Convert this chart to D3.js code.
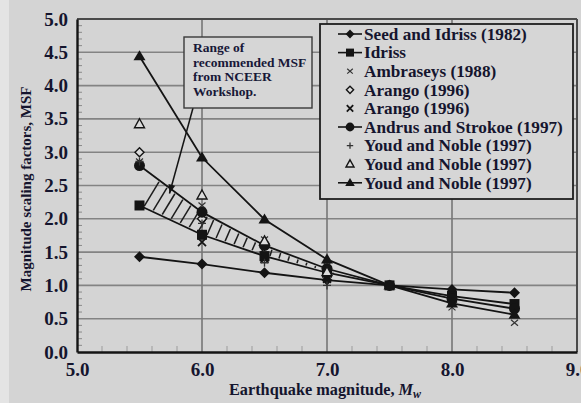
<!DOCTYPE html>
<html>
<head>
<meta charset="utf-8">
<script src="https://cdn.jsdelivr.net/npm/d3@7"></script>
<style>
  html, body { margin: 0; padding: 0; background: #d4d4d4; }
  svg { display: block; }
</style>
</head>
<body>
<svg id="chart" width="581" height="403"></svg>
<script>
// Magnitude scaling factors (MSF) proposed by various investigators
const magnitudes = [5.5, 6.0, 6.5, 7.0, 7.5, 8.0, 8.5];
const seedIdriss1982 = [1.43, 1.32, 1.19, 1.08, 1.00, 0.94, 0.89];
const idriss = [2.20, 1.76, 1.44, 1.19, 1.00, 0.84, 0.72];
const ambraseys1988 = [2.86, 2.20, 1.69, 1.30, 1.00, 0.67, 0.44];
const arango1996Distance = [3.00, 2.00, 1.60, 1.25, 1.00, 0.75, null];
const arango1996Energy = [2.20, 1.65, 1.40, 1.10, 1.00, 0.85, null];
const andrusStokoe1997 = [2.80, 2.10, 1.60, 1.25, 1.00, 0.80, 0.65];
const youdNoble20 = [2.86, 1.93, 1.34, 1.00, null, null, null];
const youdNoble32 = [3.42, 2.35, 1.66, 1.20, null, null, null];
const youdNoble50 = [4.44, 2.92, 1.99, 1.39, 1.00, 0.73, 0.56];

const xTickValues = [5.0, 6.0, 7.0, 8.0, 9.0];
const yTickValues = [0.0, 0.5, 1.0, 1.5, 2.0, 2.5, 3.0, 3.5, 4.0, 4.5, 5.0];

// Recommended range (NCEER workshop): between Idriss and Andrus & Stokoe, M 5.5 - 7.5
const bandMagnitudes = [5.5, 6.0, 6.5, 7.0, 7.5];
const noteLines = ["Range of", "recommended MSF", "from NCEER", "Workshop."];
const notePointer = [5.74, 2.38];

const series = [
  { label: "Seed and Idriss (1982)",    values: seedIdriss1982,    line: true,  marker: "diamondFill" },
  { label: "Idriss",                    values: idriss,            line: true,  marker: "square" },
  { label: "Ambraseys (1988)",          values: ambraseys1988,     line: false, marker: "xThin" },
  { label: "Arango (1996)",             values: arango1996Distance,line: false, marker: "diamondOpen" },
  { label: "Arango (1996)",             values: arango1996Energy,  line: false, marker: "xBold" },
  { label: "Andrus and Strokoe (1997)", values: andrusStokoe1997,  line: true,  marker: "circle" },
  { label: "Youd and Noble (1997)",     values: youdNoble20,       line: false, marker: "plus" },
  { label: "Youd and Noble (1997)",     values: youdNoble32,       line: false, marker: "triOpen" },
  { label: "Youd and Noble (1997)",     values: youdNoble50,       line: true,  marker: "triFill" }
];

const W = 581, H = 403;
const plot = { left: 77, right: 577, top: 19, bottom: 352 };
const serif = "'Liberation Serif', 'Times New Roman', serif";
const ink = "#141414";
const textInk = "#15152e";

const svg = d3.select("#chart");
svg.append("rect").attr("width", W).attr("height", H).attr("fill", "#d4d4d4");
svg.append("rect").attr("width", 9).attr("height", H).attr("fill", "#e4e4e4");

const x = d3.scaleLinear().domain([5, 9]).range([plot.left, plot.right]);
const y = d3.scaleLinear().domain([0, 5]).range([plot.bottom, plot.top]);

// grid
const grid = svg.append("g");
grid.selectAll("line.h").data(d3.range(0.5, 5.0, 0.5)).join("line")
  .attr("x1", plot.left).attr("x2", plot.right)
  .attr("y1", d => y(d)).attr("y2", d => y(d))
  .attr("stroke", "#838383").attr("stroke-width", 1.6);
grid.selectAll("line.v").data([6, 7, 8]).join("line")
  .attr("y1", plot.top).attr("y2", plot.bottom)
  .attr("x1", d => x(d)).attr("x2", d => x(d))
  .attr("stroke", "#767676").attr("stroke-width", 1.6);

// minor ticks
const yMinor = d3.range(1, 50).map(i => i / 10).filter(v => Math.abs(v * 2 - Math.round(v * 2)) > 1e-6);
svg.append("g").selectAll("line").data(yMinor).join("line")
  .attr("x1", plot.left).attr("x2", plot.left + 5)
  .attr("y1", d => y(d)).attr("y2", d => y(d))
  .attr("stroke", "#8a8a8a").attr("stroke-width", 1);
const xMinor = d3.range(1, 20).map(i => 5 + i * 0.2).filter(v => Math.abs(v - Math.round(v)) > 1e-6);
svg.append("g").selectAll("line").data(xMinor).join("line")
  .attr("x1", d => x(d)).attr("x2", d => x(d))
  .attr("y1", plot.bottom).attr("y2", plot.bottom - 6)
  .attr("stroke", "#9c9c9c").attr("stroke-width", 1);

// frame
svg.append("line").attr("x1", plot.left).attr("x2", plot.right).attr("y1", plot.top).attr("y2", plot.top)
  .attr("stroke", "#4a4a4a").attr("stroke-width", 2);
svg.append("line").attr("x1", plot.right).attr("x2", plot.right).attr("y1", plot.top).attr("y2", plot.bottom)
  .attr("stroke", "#4a4a4a").attr("stroke-width", 2);

// axes
const xAxis = svg.append("g").attr("transform", `translate(0,${plot.bottom})`)
  .call(d3.axisBottom(x).tickValues(xTickValues).tickFormat(d3.format(".1f")).tickSize(0).tickPadding(11));
const yAxis = svg.append("g").attr("transform", `translate(${plot.left},0)`)
  .call(d3.axisLeft(y).tickValues(yTickValues).tickFormat(d3.format(".1f")).tickSize(0).tickPadding(9));
[xAxis, yAxis].forEach(g => {
  g.select(".domain").attr("stroke", ink).attr("stroke-width", 2.4);
  g.selectAll("text").attr("font-family", serif).attr("font-weight", "bold")
    .attr("font-size", 19).attr("fill", textInk);
});

// hatched band between the two bounding curves
const lowerVals = bandMagnitudes.map(m => idriss[magnitudes.indexOf(m)]);
const upperVals = bandMagnitudes.map(m => andrusStokoe1997[magnitudes.indexOf(m)]);
const lowerY = d3.scaleLinear().domain(bandMagnitudes.map(x)).range(lowerVals.map(y)).clamp(true);
const upperY = d3.scaleLinear().domain(bandMagnitudes.map(x)).range(upperVals.map(y)).clamp(true);
const hatch = [];
const x0 = x(bandMagnitudes[0]), x1 = x(bandMagnitudes[bandMagnitudes.length - 1]);
for (let px = x0 + 4; px < x1 - 6; px += 9) {
  const py = lowerY(px);
  const m = ((lowerY(px + 3) + upperY(px + 3)) - (lowerY(px - 3) + upperY(px - 3))) / 12;
  let t = py - upperY(px);
  for (let k = 0; k < 8; k++) t = py - upperY(px + m * t);
  if (t < 3) continue;
  const inset = 1.5;
  const len = Math.hypot(m * t, t);
  const ux = m * t / len, uy = -t / len;
  hatch.push([px + ux * inset, py + uy * inset, px + m * t - ux * inset, py - t - uy * inset]);
}
svg.append("g").selectAll("line").data(hatch).join("line")
  .attr("x1", d => d[0]).attr("y1", d => d[1]).attr("x2", d => d[2]).attr("y2", d => d[3])
  .attr("stroke", "#1c1c1c").attr("stroke-width", 1.5);

// series lines
const lineGen = d3.line().defined(d => d[1] != null).x(d => x(d[0])).y(d => y(d[1]));
series.filter(s => s.line).forEach(s => {
  svg.append("path").datum(magnitudes.map((m, i) => [m, s.values[i]]))
    .attr("d", lineGen).attr("fill", "none").attr("stroke", ink).attr("stroke-width", 1.8);
});

// marker drawing
function drawMarker(g, type, cx, cy, scale = 1) {
  const s = scale;
  switch (type) {
    case "diamondFill":
      g.append("path").attr("d", `M${cx},${cy - 5.5 * s}L${cx + 5.5 * s},${cy}L${cx},${cy + 5.5 * s}L${cx - 5.5 * s},${cy}Z`).attr("fill", ink);
      break;
    case "diamondOpen":
      g.append("path").attr("d", `M${cx},${cy - 4.5 * s}L${cx + 4.5 * s},${cy}L${cx},${cy + 4.5 * s}L${cx - 4.5 * s},${cy}Z`)
        .attr("fill", "#dcdcdc").attr("stroke", ink).attr("stroke-width", 1.4);
      break;
    case "square":
      g.append("rect").attr("x", cx - 5 * s).attr("y", cy - 5 * s).attr("width", 10 * s).attr("height", 10 * s).attr("fill", ink);
      break;
    case "circle":
      g.append("circle").attr("cx", cx).attr("cy", cy).attr("r", 5.5 * s).attr("fill", ink);
      break;
    case "xThin":
      g.append("path").attr("d", `M${cx - 3.5 * s},${cy - 3 * s}L${cx + 3.5 * s},${cy + 3 * s}M${cx + 3.5 * s},${cy - 3 * s}L${cx - 3.5 * s},${cy + 3 * s}`)
        .attr("stroke", "#333").attr("stroke-width", 1.2);
      break;
    case "xBold":
      g.append("path").attr("d", `M${cx - 4 * s},${cy - 4 * s}L${cx + 4 * s},${cy + 4 * s}M${cx + 4 * s},${cy - 4 * s}L${cx - 4 * s},${cy + 4 * s}`)
        .attr("stroke", ink).attr("stroke-width", 1.8);
      break;
    case "plus":
      g.append("path").attr("d", `M${cx - 4 * s},${cy}L${cx + 4 * s},${cy}M${cx},${cy - 4 * s}L${cx},${cy + 4 * s}`)
        .attr("stroke", "#333").attr("stroke-width", 1.3);
      break;
    case "triOpen":
      g.append("path").attr("d", `M${cx},${cy - 5.5 * s}L${cx + 5 * s},${cy + 3.5 * s}L${cx - 5 * s},${cy + 3.5 * s}Z`)
        .attr("fill", "#dcdcdc").attr("stroke", ink).attr("stroke-width", 1.4);
      break;
    case "triFill":
      g.append("path").attr("d", `M${cx},${cy - 6 * s}L${cx + 6 * s},${cy + 4 * s}L${cx - 6 * s},${cy + 4 * s}Z`).attr("fill", ink);
      break;
  }
}

// markers (drawn in legend order)
const markerLayer = svg.append("g");
series.forEach(s => {
  magnitudes.forEach((m, i) => {
    if (s.values[i] != null) drawMarker(markerLayer, s.marker, x(m), y(s.values[i]));
  });
});

// annotation box with pointer
const noteBox = { x: 184, y: 37, w: 128, h: 71 };
svg.append("line")
  .attr("x1", 193).attr("y1", noteBox.y + noteBox.h)
  .attr("x2", x(notePointer[0])).attr("y2", y(notePointer[1]))
  .attr("stroke", ink).attr("stroke-width", 1.5);
{
  const tx = x(notePointer[0]), ty = y(notePointer[1]);
  const ang = Math.atan2(ty - (noteBox.y + noteBox.h), tx - 193);
  const L = 9, Wd = 3.5;
  const bx = tx - L * Math.cos(ang), by = ty - L * Math.sin(ang);
  const nx = -Math.sin(ang) * Wd, ny = Math.cos(ang) * Wd;
  svg.append("path").attr("d", `M${tx},${ty}L${bx + nx},${by + ny}L${bx - nx},${by - ny}Z`).attr("fill", ink);
}
svg.append("rect").attr("x", noteBox.x).attr("y", noteBox.y).attr("width", noteBox.w).attr("height", noteBox.h)
  .attr("fill", "#d6d6d6").attr("stroke", "#3a3a3a").attr("stroke-width", 1.4);
svg.append("g").selectAll("text").data(noteLines).join("text")
  .attr("x", noteBox.x + 9).attr("y", (d, i) => noteBox.y + 15 + i * 14.5)
  .attr("font-family", serif).attr("font-weight", "bold").attr("font-size", 13.5)
  .attr("fill", "#181838").text(d => d);

// legend
const legendBox = { x: 320, y: 24, w: 253, h: 175 };
svg.append("rect").attr("x", legendBox.x).attr("y", legendBox.y).attr("width", legendBox.w).attr("height", legendBox.h)
  .attr("fill", "#d6d6d6").attr("stroke", "#1e1e1e").attr("stroke-width", 1.8);
const legend = svg.append("g");
series.forEach((s, i) => {
  const ly = 34 + i * 18.6;
  if (s.line) legend.append("line").attr("x1", 338).attr("x2", 362).attr("y1", ly).attr("y2", ly)
    .attr("stroke", ink).attr("stroke-width", 1.6);
  drawMarker(legend, s.marker, 350, ly, 0.8);
  legend.append("text").attr("x", 364).attr("y", ly).attr("dy", "0.34em")
    .attr("font-family", serif).attr("font-weight", "bold").attr("font-size", 17.2)
    .attr("fill", textInk).text(s.label);
});

// axis titles
const xt = svg.append("text").attr("x", 325).attr("y", 395).attr("text-anchor", "middle")
  .attr("font-family", serif).attr("font-weight", "bold").attr("font-size", 16.3).attr("fill", textInk);
xt.append("tspan").text("Earthquake magnitude, ");
xt.append("tspan").attr("font-style", "italic").text("M");
xt.append("tspan").attr("font-style", "italic").attr("font-size", 12).attr("dy", 3).text("w");

svg.append("text").attr("transform", "translate(31,189) rotate(-90)").attr("text-anchor", "middle")
  .attr("font-family", serif).attr("font-weight", "bold").attr("font-size", 15).attr("fill", textInk)
  .text("Magnitude scaling factors, MSF");
</script>
</body>
</html>
